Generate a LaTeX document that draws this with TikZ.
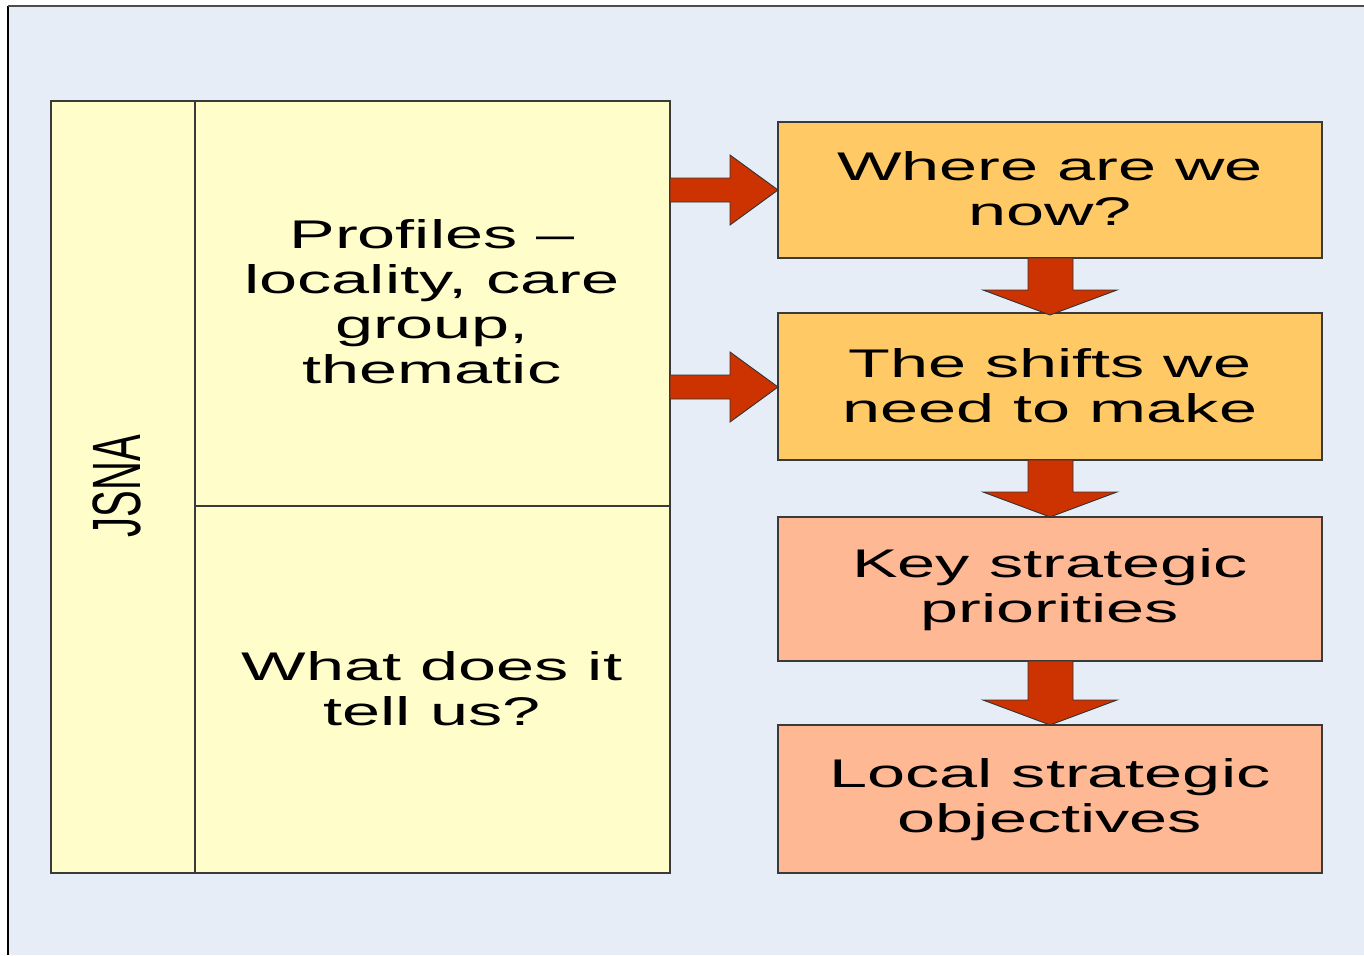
\documentclass[tikz,border=0pt]{standalone}
\usepackage{fontspec}
\setmainfont{Liberation Sans}
\definecolor{bgblue}{HTML}{E6EDF7}
\definecolor{paleyellow}{HTML}{FFFDC9}
\definecolor{gold}{HTML}{FFC966}
\definecolor{salmon}{HTML}{FFB894}
\definecolor{arrowred}{HTML}{CC3300}
\definecolor{edgegray}{HTML}{3A3A3A}
\tikzset{
  panel/.style={draw=edgegray, line width=1.6pt, fill=paleyellow},
  stepbox/.style={draw=edgegray, line width=1.6pt},
  label/.style={align=center, font=\fontsize{40}{45}\selectfont, text=black, xscale=1.71, inner sep=0pt},
  bigarrow/.style={fill=arrowred, draw=black!80, line width=0.9pt, line join=miter},
}
\begin{document}
\begin{tikzpicture}[x=1pt,y=-1pt]
\useasboundingbox (0,0) rectangle (1364,955);
% background
\fill[bgblue] (8,6) rectangle (1364,955);
\draw[black, line width=2.2pt] (8,955) -- (8,6);
\draw[black!70, line width=1.2pt] (8,6) -- (1364,6);
% left panels
\draw[panel] (51,101) rectangle (195,873);
\draw[panel] (195,101) rectangle (670,506);
\draw[panel] (195,506) rectangle (670,873);
\node[inner sep=0pt, font=\fontsize{40}{40}\selectfont] (jsna) at (117,486) {\scalebox{1.71}[1]{\rotatebox{90}{JSNA}}};
\node[label] (prof) at (432,302) {Profiles --\\locality, care\\group,\\thematic};
\node[label] (what) at (432,689) {What does it\\tell us?};
% right boxes
\draw[stepbox, fill=gold] (778,122) rectangle (1322,258);
\draw[stepbox, fill=gold] (778,313) rectangle (1322,460);
\draw[stepbox, fill=salmon] (778,517) rectangle (1322,661);
\draw[stepbox, fill=salmon] (778,725) rectangle (1322,873);
\node[label] (b1) at (1050,189) {Where are we\\now?};
\node[label] (b2) at (1050,386) {The shifts we\\need to make};
\node[label] (b3) at (1050,590) {Key strategic\\priorities};
\node[label] (b4) at (1050,800) {Local strategic\\objectives};
% right arrows
\foreach \cy in {190,387}{
  \draw[bigarrow] (670,\cy-12) -- (730,\cy-12) -- (730,\cy-35) -- (778,\cy) -- (730,\cy+35) -- (730,\cy+12) -- (670,\cy+12) -- cycle;
}
% down arrows
\foreach \ya/\yb in {258/315, 460/517, 661/725}{
  \draw[bigarrow] (1028,\ya) -- (1028,\yb-25) -- (983,\yb-25) -- (1050,\yb) -- (1117,\yb-25) -- (1073,\yb-25) -- (1073,\ya) -- cycle;
}
\end{tikzpicture}
\end{document}
